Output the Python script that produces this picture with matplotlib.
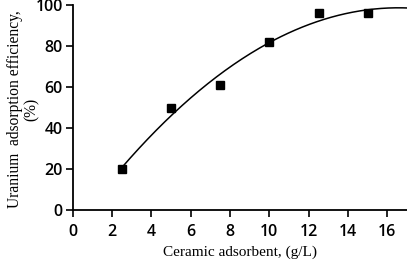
import numpy as np
import matplotlib
matplotlib.use("Agg")
import matplotlib.pyplot as plt

# measured points
dose = np.array([2.5, 5, 7.5, 10, 12.5, 15])
efficiency = np.array([20, 50, 61, 82, 96, 96])

x_ticks = [0, 2, 4, 6, 8, 10, 12, 14, 16]
y_ticks = [0, 20, 40, 60, 80, 100]

# second order trend line, as drawn in the original
coef = np.polyfit(dose, efficiency, 2)
xs = np.linspace(2.5, 17, 200)
ys = np.polyval(coef, xs)

fig = plt.figure(figsize=(4.07, 2.62), dpi=100)
ax = fig.add_axes([0.1786, 0.198, 0.8214, 0.782])

ax.plot(xs, ys, color='black', lw=1.1)
ax.plot(dose, efficiency, 's', color='black', ms=6, clip_on=False)

ax.set_xlim(0, 17)
ax.set_ylim(0, 100)
ax.set_xticks(x_ticks)
ax.set_yticks(y_ticks)
for s in ['top', 'right']:
    ax.spines[s].set_visible(False)
for s in ['left', 'bottom']:
    ax.spines[s].set_linewidth(1.3)
ax.tick_params(direction='out', length=5, width=1.2, labelsize=11.5)
ax.tick_params(axis='x', pad=5)
ax.tick_params(axis='y', pad=2)
for lab in ax.get_xticklabels() + ax.get_yticklabels():
    lab.set_fontfamily('Open Sans')
    lab.set_fontweight('semibold')

ax.set_xlabel('Ceramic adsorbent, (g/L)', fontfamily='Liberation Serif', fontsize=11, labelpad=4)
# y label placed by hand so it is not pushed off the left edge
fig.text(15 / 407, 1 - 109 / 262, 'Uranium  adsorption efficiency,', rotation=90,
         fontfamily='Liberation Serif', fontsize=11.2, ha='center', va='center')
fig.text(32 / 407, 1 - 109 / 262, '(%)', rotation=90,
         fontfamily='Liberation Serif', fontsize=11.2, ha='center', va='center')

fig.savefig('out.png', dpi=100)
